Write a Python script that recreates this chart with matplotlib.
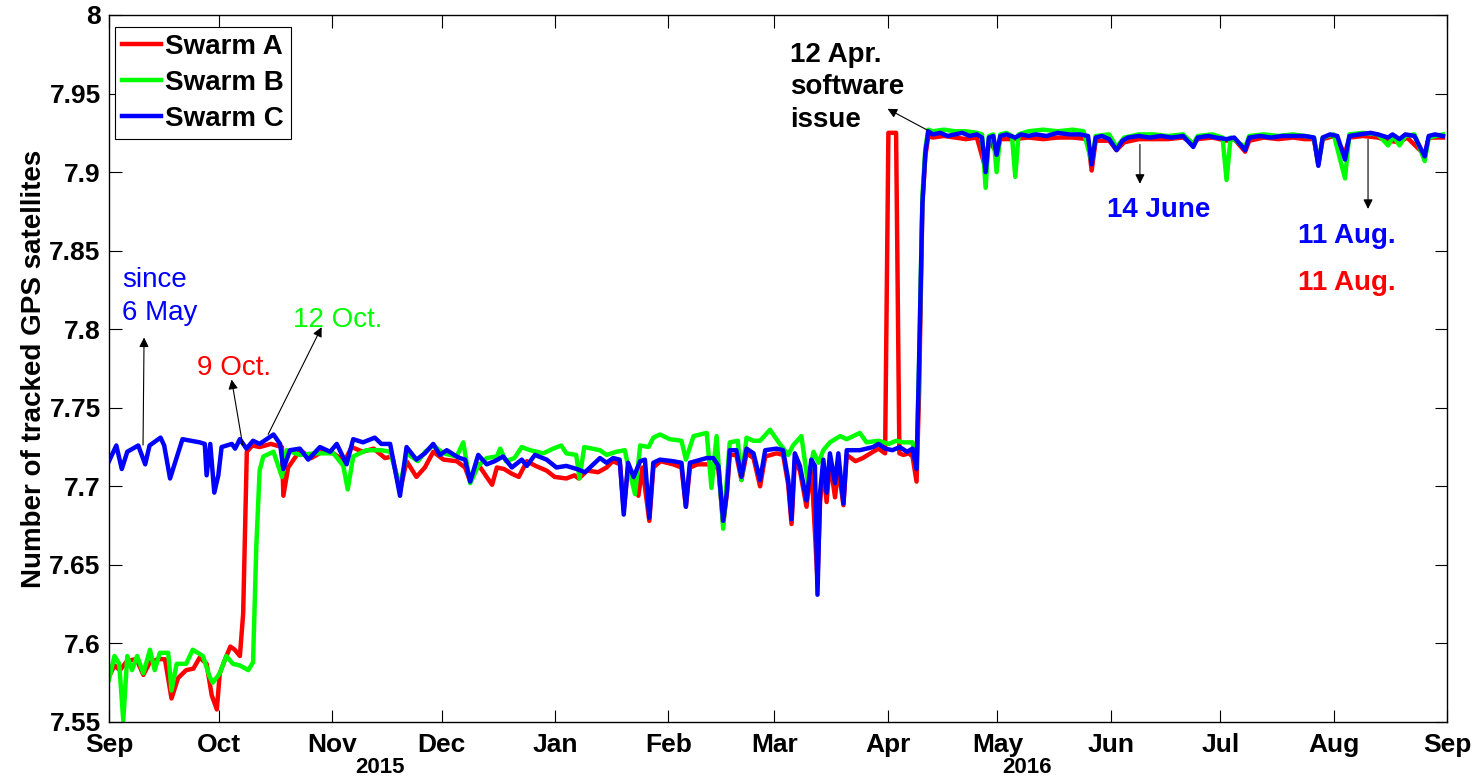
import matplotlib
matplotlib.use('Agg')
import matplotlib.pyplot as plt
import matplotlib.dates as mdates
from matplotlib.ticker import FuncFormatter, MultipleLocator
from datetime import datetime
import numpy as np

plt.rcParams['font.family'] = ['Liberation Sans', 'DejaVu Sans']

# days since 1 Sep 2015 and mean number of tracked GPS satellites
days_c = [0, 2, 3.5, 5, 8, 9.9, 11.1, 14.1, 15.1, 16.7, 20.1, 24.8, 26.2, 26.7, 27.7, 28.8, 29.9, 30.8,
          33.6, 34.5, 35.8, 37.6, 39.4, 41.2, 45.0, 46.8, 47.7, 49.5, 52.2, 54.5, 57.7, 60.5, 62.3,
          65.0, 66.8, 69.5, 72.7, 74.5, 76.9, 79.6, 81.4, 84.1, 86.4, 88.7, 90.5, 92.4, 95.1, 96.0,
          97.4, 98.8, 101.0, 103.3, 105.5, 107.8, 110.2, 112.9, 114.3, 116.5, 119.7, 122.4, 125.1,
          128.0, 130.2, 134.3, 136.1, 137.9, 139.7, 140.8, 142.0, 143.5, 145.3, 146.6, 147.8, 148.9,
          150.7, 154.3, 156.6, 157.8, 158.9, 163.5, 165.3, 166.7, 168.0, 169.0, 169.8, 171.6, 173.0,
          174.4, 176.3, 178.1, 179.5, 182.6, 184.4, 185.8, 186.7, 187.6, 189.0, 190.8, 192.1, 193.1,
          193.8, 194.5, 195.4, 196.3, 197.2, 198.6, 199.5, 200.9, 201.8, 205.4, 209.0, 210.5, 212.3,
          214.3, 216.3, 218.3, 219.8, 220.9, 221.6, 222.5, 223.3, 224.1, 225.3, 227.4, 229.4, 231.4,
          233.4, 235.4, 237.4, 238.8, 239.8, 240.7, 241.9, 242.8, 243.8, 245.5, 247.9, 249.5, 251.5,
          253.5, 256.5, 259.5, 262.6, 265.6, 267.8, 268.8, 269.9, 271.6, 273.6, 275.6, 277.2, 278.7,
          281.7, 284.7, 287.7, 290.7, 293.8, 296.6, 297.8, 300.8, 302.8, 305.7, 307.8, 310.8, 311.9,
          314.9, 317.9, 320.9, 323.9, 327.0, 329.6, 330.8, 332.0, 334.0, 336.0, 338.1, 339.3, 342.0,
          345.1, 347.1, 349.9, 351.1, 353.0, 354.6, 357.1, 359.9, 361.0, 362.7, 364.9]
swarm_c = [7.716, 7.726, 7.711, 7.722, 7.726, 7.714, 7.726, 7.731, 7.726, 7.705, 7.730, 7.728, 7.727,
           7.707, 7.727, 7.696, 7.707, 7.725, 7.727, 7.724, 7.730, 7.724, 7.729, 7.727, 7.733, 7.727,
           7.711, 7.723, 7.724, 7.717, 7.725, 7.722, 7.727, 7.714, 7.730, 7.728, 7.731, 7.727, 7.727,
           7.694, 7.725, 7.717, 7.721, 7.727, 7.720, 7.723, 7.719, 7.718, 7.717, 7.703, 7.720, 7.714,
           7.716, 7.719, 7.712, 7.717, 7.713, 7.720, 7.717, 7.712, 7.713, 7.711, 7.709, 7.718, 7.715,
           7.718, 7.717, 7.682, 7.715, 7.706, 7.716, 7.717, 7.680, 7.715, 7.717, 7.716, 7.715, 7.687,
           7.715, 7.718, 7.718, 7.713, 7.678, 7.696, 7.723, 7.723, 7.706, 7.724, 7.721, 7.704, 7.723,
           7.724, 7.723, 7.704, 7.679, 7.721, 7.713, 7.691, 7.717, 7.713, 7.631, 7.696, 7.717, 7.696,
           7.721, 7.702, 7.721, 7.689, 7.723, 7.723, 7.725, 7.727, 7.724, 7.723, 7.725, 7.722, 7.724,
           7.711, 7.780, 7.880, 7.912, 7.926, 7.924, 7.925, 7.923, 7.924, 7.925, 7.923, 7.924, 7.922,
           7.900, 7.922, 7.923, 7.911, 7.923, 7.924, 7.922, 7.924, 7.923, 7.924, 7.923, 7.925, 7.924,
           7.924, 7.923, 7.905, 7.922, 7.923, 7.921, 7.914, 7.920, 7.922, 7.923, 7.922, 7.923, 7.922,
           7.923, 7.916, 7.922, 7.923, 7.922, 7.921, 7.922, 7.914, 7.922, 7.923, 7.922, 7.923, 7.923,
           7.923, 7.922, 7.904, 7.922, 7.924, 7.923, 7.908, 7.923, 7.924, 7.925, 7.924, 7.922, 7.924,
           7.921, 7.924, 7.923, 7.910, 7.923, 7.924, 7.923]

days_a = [0, 1.5, 3, 5, 7.5, 9.4, 11.2, 13.4, 15.3, 17.1, 18.9, 21.1, 23.1, 24.8, 26.7, 28.1, 29.5,
          30.3, 31.6, 33.2, 34.4, 35.8, 36.7, 37.2, 37.7, 39.2, 41.2, 44.3, 47.3, 47.7, 49.0, 52.3,
          55.3, 58.3, 61.4, 64.4, 66.4, 69.4, 72.4, 75.5, 77.5, 79.6, 81.4, 84.1, 86.4, 88.7, 91.5,
          95.1, 97.4, 98.8, 101.0, 103.3, 104.8, 106.1, 108.1, 110.2, 112.1, 114.3, 116.7, 119.7,
          121.9, 125.1, 127.3, 128.5, 130.8, 133.8, 136.1, 137.8, 139.8, 140.8, 142.0, 143.5, 144.8,
          145.9, 147.8, 148.9, 150.9, 154.3, 156.6, 157.8, 158.9, 161.0, 163.5, 165.3, 166.7, 168.0,
          169.0, 169.8, 171.6, 173.0, 174.4, 176.3, 178.1, 179.5, 182.6, 184.4, 185.8, 186.7, 187.6,
          189.0, 190.8, 192.1, 193.8, 194.5, 195.4, 196.3, 197.2, 198.6, 199.5, 200.9, 201.8, 204.2,
          206.2, 209.0, 210.5, 212.3, 213.2, 215.3, 216.2, 217.3, 218.8, 219.8, 220.9, 221.6, 222.5,
          223.3, 224.1, 225.3, 228.4, 231.4, 234.4, 237.4, 239.8, 240.7, 242.8, 243.8, 247.5, 251.5,
          255.5, 259.5, 263.6, 267.8, 268.8, 269.9, 273.6, 275.6, 277.7, 281.7, 285.7, 289.7, 293.8,
          296.6, 297.8, 301.8, 305.7, 307.8, 310.8, 311.9, 315.9, 319.9, 323.9, 327.0, 329.6, 330.8,
          332.0, 335.0, 338.1, 339.3, 343.0, 347.1, 349.9, 353.0, 355.1, 359.9, 361.0, 364.9]
swarm_a = [7.579, 7.586, 7.583, 7.589, 7.590, 7.580, 7.588, 7.590, 7.590, 7.565, 7.578, 7.583, 7.584,
           7.591, 7.587, 7.567, 7.558, 7.581, 7.589, 7.598, 7.596, 7.592, 7.619, 7.672, 7.722, 7.726,
           7.725, 7.727, 7.725, 7.694, 7.712, 7.723, 7.718, 7.722, 7.721, 7.716, 7.725, 7.722, 7.724,
           7.718, 7.719, 7.697, 7.716, 7.706, 7.712, 7.722, 7.717, 7.716, 7.712, 7.703, 7.714, 7.706,
           7.701, 7.712, 7.711, 7.708, 7.706, 7.716, 7.713, 7.710, 7.706, 7.705, 7.707, 7.705, 7.710,
           7.709, 7.712, 7.716, 7.714, 7.685, 7.713, 7.704, 7.694, 7.712, 7.678, 7.712, 7.716, 7.714,
           7.712, 7.687, 7.712, 7.714, 7.714, 7.714, 7.711, 7.676, 7.695, 7.720, 7.720, 7.704, 7.721,
           7.718, 7.700, 7.719, 7.721, 7.720, 7.701, 7.676, 7.716, 7.710, 7.687, 7.714, 7.640, 7.690,
           7.712, 7.690, 7.716, 7.693, 7.712, 7.688, 7.720, 7.716, 7.718, 7.722, 7.724, 7.721, 7.925,
           7.925, 7.721, 7.720, 7.721, 7.719, 7.703, 7.760, 7.880, 7.910, 7.923, 7.922, 7.923, 7.922,
           7.921, 7.922, 7.902, 7.921, 7.912, 7.921, 7.921, 7.922, 7.921, 7.922, 7.922, 7.921, 7.901,
           7.920, 7.920, 7.914, 7.919, 7.921, 7.921, 7.921, 7.922, 7.918, 7.921, 7.922, 7.920, 7.921,
           7.913, 7.920, 7.922, 7.921, 7.922, 7.921, 7.921, 7.905, 7.921, 7.923, 7.912, 7.922, 7.923,
           7.922, 7.920, 7.919, 7.922, 7.911, 7.922, 7.922]

days_b = [0, 1.5, 2.8, 3.9, 5, 6.3, 7.7, 9.4, 11.2, 12.5, 13.9, 16.2, 17.1, 18.5, 21.1, 22.9, 25.7,
          27.5, 28.4, 30.3, 32.1, 33.9, 35.8, 38.1, 39.4, 40.3, 41.2, 42.2, 45.0, 47.3, 48.6, 52.2,
          56.3, 61.4, 64.1, 65.3, 66.8, 70.4, 74.5, 76.9, 79.6, 81.4, 84.5, 86.5, 88.7, 91.5, 95.1,
          96.9, 98.8, 101.0, 103.3, 106.1, 107.0, 108.6, 110.9, 112.9, 115.2, 118.8, 121.5, 123.7,
          125.1, 127.8, 128.7, 130.0, 134.3, 136.1, 138.8, 141.1, 142.0, 143.9, 145.3, 147.6, 148.9,
          150.7, 153.4, 156.6, 157.8, 159.9, 163.5, 164.8, 166.2, 168.0, 169.8, 172.0, 173.0, 174.4,
          176.3, 178.1, 180.8, 183.5, 185.8, 187.1, 189.4, 191.2, 192.7, 194.1, 195.4, 197.2, 200.0,
          201.8, 205.4, 207.2, 210.5, 213.3, 215.3, 217.3, 219.8, 220.9, 221.6, 222.5, 223.3, 224.1,
          225.3, 228.4, 231.4, 234.4, 237.4, 238.8, 239.8, 240.7, 241.9, 242.8, 243.8, 245.5, 247.0,
          247.9, 248.8, 251.5, 255.5, 259.5, 263.6, 266.6, 268.8, 269.9, 273.6, 275.6, 277.7, 281.7,
          285.7, 289.7, 293.8, 296.6, 297.8, 301.8, 304.6, 305.7, 306.8, 310.8, 311.9, 315.9, 319.9,
          323.9, 327.0, 329.6, 330.8, 332.0, 335.0, 338.1, 339.3, 343.0, 347.1, 349.9, 351.3, 353.0,
          354.6, 357.1, 359.9, 361.0, 364.9]
swarm_b = [7.577, 7.592, 7.587, 7.551, 7.592, 7.583, 7.592, 7.581, 7.596, 7.583, 7.594, 7.594, 7.570,
           7.587, 7.587, 7.596, 7.592, 7.579, 7.575, 7.581, 7.592, 7.587, 7.586, 7.583, 7.588, 7.662,
           7.710, 7.719, 7.722, 7.706, 7.723, 7.720, 7.721, 7.721, 7.713, 7.698, 7.719, 7.723, 7.723,
           7.722, 7.700, 7.721, 7.716, 7.722, 7.726, 7.721, 7.719, 7.728, 7.702, 7.713, 7.718, 7.719,
           7.724, 7.716, 7.718, 7.725, 7.723, 7.721, 7.724, 7.726, 7.721, 7.720, 7.705, 7.725, 7.723,
           7.720, 7.722, 7.723, 7.713, 7.695, 7.726, 7.725, 7.731, 7.733, 7.730, 7.729, 7.717, 7.732,
           7.734, 7.699, 7.732, 7.673, 7.728, 7.729, 7.704, 7.731, 7.729, 7.729, 7.736, 7.727, 7.720,
           7.726, 7.732, 7.702, 7.722, 7.715, 7.723, 7.728, 7.732, 7.730, 7.734, 7.728, 7.729, 7.727,
           7.729, 7.728, 7.728, 7.712, 7.780, 7.885, 7.915, 7.927, 7.926, 7.927, 7.926, 7.926, 7.925,
           7.924, 7.890, 7.923, 7.924, 7.900, 7.924, 7.925, 7.923, 7.897, 7.924, 7.926, 7.927, 7.926,
           7.927, 7.926, 7.906, 7.923, 7.924, 7.916, 7.922, 7.924, 7.924, 7.923, 7.924, 7.918, 7.923,
           7.924, 7.922, 7.895, 7.922, 7.916, 7.923, 7.924, 7.923, 7.924, 7.923, 7.922, 7.905, 7.922,
           7.924, 7.896, 7.924, 7.925, 7.924, 7.917, 7.923, 7.917, 7.923, 7.924, 7.907, 7.922, 7.924]

t0 = mdates.date2num(datetime(2015, 9, 1))
t1 = mdates.date2num(datetime(2016, 9, 1))

fig = plt.figure(figsize=(14.8, 7.79), dpi=100)
ax = fig.add_axes([109/1480, 1 - 722/779, (1447 - 109)/1480, (722 - 15)/779])

ax.plot(t0 + np.array(days_a), swarm_a, color=(1, 0, 0), lw=3.2, label='Swarm A')
ax.plot(t0 + np.array(days_b), swarm_b, color=(0, 1, 0), lw=3.2, label='Swarm B')
ax.plot(t0 + np.array(days_c), swarm_c, color=(0, 0, 1), lw=3.2, label='Swarm C')

ax.set_xlim(t0, t1)
ax.set_ylim(7.55, 8.0)
ax.xaxis.set_major_locator(mdates.MonthLocator())
ax.xaxis.set_major_formatter(mdates.DateFormatter('%b'))
ax.yaxis.set_major_locator(MultipleLocator(0.05))
ax.yaxis.set_major_formatter(FuncFormatter(lambda v, p: '%g' % round(v, 2)))
ax.tick_params(direction='in', top=True, right=True, length=9, width=0.8, labelsize=19)
ax.tick_params(axis='x', pad=8)
ax.tick_params(axis='y', pad=6)
for lab in ax.get_xticklabels() + ax.get_yticklabels():
    lab.set_fontweight('bold')
for s in ax.spines.values():
    s.set_linewidth(1.0)
ax.set_ylabel('Number of tracked GPS satellites', fontsize=20, fontweight='bold', labelpad=2)

leg = ax.legend(loc='upper left', bbox_to_anchor=(0.0045, 0.983), borderaxespad=0,
                prop={'size': 20, 'weight': 'bold'}, handlelength=1.4, handletextpad=0.15,
                borderpad=0.25, labelspacing=0.36, fancybox=False, framealpha=1)
leg.get_frame().set_edgecolor('black')
leg.get_frame().set_linewidth(0.8)

yr = ax.get_xaxis_transform()
ax.text(t0 + 74.1, -0.064, '2015', transform=yr, ha='center', va='center',
        fontsize=16, fontweight='bold')
ax.text(t0 + 251.1, -0.064, '2016', transform=yr, ha='center', va='center',
        fontsize=16, fontweight='bold')

arr = dict(arrowstyle='-|>', color='black', lw=0.8, mutation_scale=14)

ax.text(t0 + 3.6, 7.827, 'since', color='blue', fontsize=20)
ax.text(t0 + 3.6, 7.806, '6 May', color='blue', fontsize=20)
ax.annotate('', xy=(t0 + 9.6, 7.7965), xytext=(t0 + 9.3, 7.7245), arrowprops=arr)

ax.text(t0 + 24.1, 7.771, '9 Oct.', color='red', fontsize=20)
ax.annotate('', xy=(t0 + 33.4, 7.7697), xytext=(t0 + 36.7, 7.7245), arrowprops=arr)

ax.text(t0 + 50.3, 7.8016, '12 Oct.', color=(0, 1, 0), fontsize=20)
ax.annotate('', xy=(t0 + 58.5, 7.8029), xytext=(t0 + 43.2, 7.7315), arrowprops=arr)

ax.text(t0 + 186.3, 7.9704, '12 Apr.', color='black', fontsize=20, fontweight='bold')
ax.text(t0 + 186.3, 7.9494, 'software', color='black', fontsize=20, fontweight='bold')
ax.text(t0 + 186.3, 7.9290, 'issue', color='black', fontsize=20, fontweight='bold')
ax.annotate('', xy=(t0 + 212.3, 7.9411), xytext=(t0 + 224.6, 7.9258), arrowprops=arr)

ax.text(t0 + 273.0, 7.8716, '14 June', color='blue', fontsize=20, fontweight='bold')
ax.annotate('', xy=(t0 + 282.0, 7.8908), xytext=(t0 + 282.0, 7.9194), arrowprops=arr)

ax.text(t0 + 325.2, 7.8551, '11 Aug.', color='blue', fontsize=20, fontweight='bold')
ax.text(t0 + 325.2, 7.8252, '11 Aug.', color='red', fontsize=20, fontweight='bold')
ax.annotate('', xy=(t0 + 344.4, 7.8748), xytext=(t0 + 344.4, 7.9226), arrowprops=arr)

fig.savefig('out.png', dpi=100)
